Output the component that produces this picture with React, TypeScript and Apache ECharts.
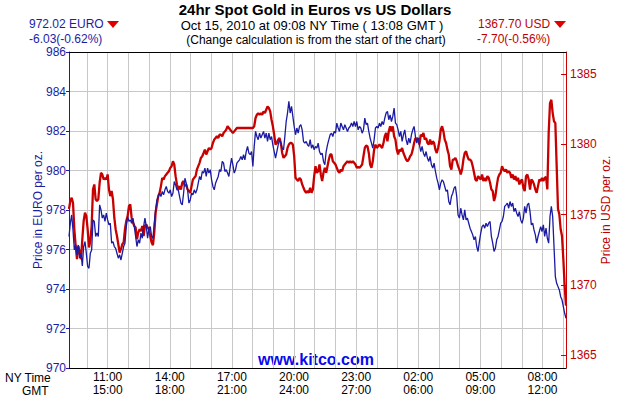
import React, { useEffect, useRef } from "react";
import * as echarts from "echarts";

// EUR price per oz, first half of the window (09:08 -> ~20:45 NY)
const euroEarly = [
  976.66, 977.33, 977.75, 976.99, 975.98, 976.23, 975.73, 976.23, 975.56, 975.81,
  975.17, 976.15, 976.40, 975.81, 975.14, 975.05, 975.81, 975.98, 977.50, 977.42,
  976.66, 976.83, 976.66, 978.26, 978.01, 977.59, 977.75, 977.42, 977.84, 977.50,
  977.25, 977.33, 976.32, 976.40, 976.15, 976.06, 975.81, 975.56, 975.73, 975.47,
  975.81, 976.15, 976.32, 977.16, 977.67, 977.42, 977.50, 977.33, 977.59, 977.16,
  976.66, 976.15, 976.49, 976.32, 976.83, 976.57, 977.16, 977.59, 977.16, 976.57,
  977.08, 977.16, 976.66, 976.57, 977.33, 978.01, 978.51, 978.68, 978.85, 978.68,
  978.94, 978.77, 979.02, 979.19, 978.94, 978.85, 979.02, 978.68, 978.85, 979.44,
  979.27, 979.02, 979.02, 978.68, 978.35, 978.26, 978.85, 979.61, 979.36, 979.02,
  978.35, 978.51, 978.85, 978.77, 979.02, 978.85, 979.02, 979.36, 979.70, 979.53,
  979.95, 979.87, 980.12, 979.70, 980.12, 979.87, 980.04, 979.53, 979.19, 979.02,
  979.36, 979.53, 979.70, 980.04, 979.95, 980.46, 980.37, 979.95, 980.04, 979.87,
  979.70, 980.20, 980.63, 980.29, 979.87, 980.04, 980.37, 980.46, 980.54, 980.71,
  980.54, 980.80, 980.54, 980.96, 981.22, 980.88, 980.80, 980.96, 980.20, 981.22,
  981.98, 981.72, 981.56, 981.89, 981.64, 981.81, 981.98, 981.64, 981.89, 981.47,
  981.89, 981.56, 981.72, 981.30, 980.96, 980.63, 980.96, 981.30, 981.56, 981.39,
  981.13, 981.05, 981.72, 982.48, 982.91, 983.50, 982.91, 983.25, 982.74, 982.23,
  981.81, 982.15, 981.89, 982.23, 982.32, 982.06, 981.47, 981.39, 981.47, 981.30,
  981.22,
];

// EUR price per oz, second half (~20:45 NY -> 09:08 NY)
const euroLate = [
  981.56, 981.13, 981.30, 981.05, 981.22, 981.13, 981.39, 980.96, 980.80, 980.88,
  980.46, 980.29, 980.96, 981.30, 981.56, 981.81, 981.89, 981.72, 981.98, 981.89,
  982.40, 982.15, 981.98, 982.40, 982.23, 982.06, 982.32, 982.15, 981.98, 982.15,
  982.23, 982.40, 982.23, 982.48, 982.23, 982.48, 982.06, 982.23, 982.15, 981.89,
  982.06, 982.65, 982.32, 982.40, 981.98, 981.64, 981.39, 981.13, 981.56, 982.15,
  982.23, 982.15, 982.40, 982.23, 982.48, 982.32, 982.65, 982.91, 982.99, 982.57,
  982.82, 982.48, 982.74, 983.16, 982.40, 982.32, 982.06, 981.72, 981.98, 981.47,
  981.81, 982.06, 981.56, 981.30, 981.64, 981.39, 981.81, 982.06, 982.23, 981.72,
  981.39, 981.64, 981.30, 980.96, 981.22, 980.88, 980.71, 980.96, 980.63, 980.46,
  980.71, 980.29, 980.12, 980.37, 979.95, 979.61, 979.36, 979.02, 979.36, 979.53,
  979.44, 979.19, 978.94, 979.02, 978.43, 978.26, 978.68, 978.85, 979.11, 979.19,
  978.68, 977.75, 977.59, 978.09, 977.75, 977.50, 978.01, 977.50, 977.59, 977.33,
  977.08, 976.91, 976.74, 976.49, 976.66, 976.15, 975.90, 976.40, 976.83, 977.16,
  977.25, 977.08, 977.33, 977.16, 977.33, 977.42, 976.66, 976.32, 975.90, 976.06,
  976.49, 976.66, 976.99, 977.33, 977.42, 977.67, 978.18, 978.26, 978.35, 978.09,
  978.43, 978.18, 978.35, 977.92, 978.09, 977.84, 977.67, 977.92, 977.50, 977.33,
  977.59, 978.18, 977.84, 978.26, 978.35, 977.92, 977.25, 977.33, 976.99, 976.74,
  976.32, 976.66, 976.91, 977.16, 976.91, 977.25, 976.66, 977.08, 976.57, 976.32,
  977.67, 978.18, 977.67, 976.15, 974.63, 974.29, 974.12, 973.95, 973.61, 973.45,
  973.11, 972.77, 972.52,
];

// USD price per oz, first half
const usdEarly = [
  1375.40, 1375.97, 1376.20, 1375.85, 1373.96, 1372.77, 1371.83, 1372.77, 1372.30, 1371.83,
  1373.25, 1374.55, 1375.14, 1374.90, 1373.96, 1372.66, 1373.13, 1374.19, 1376.79, 1377.15,
  1376.09, 1375.97, 1376.09, 1377.27, 1377.98, 1377.86, 1377.50, 1377.62, 1377.50, 1377.86,
  1376.79, 1376.32, 1376.68, 1376.09, 1374.78, 1373.96, 1373.48, 1372.89, 1372.30, 1372.54,
  1372.89, 1373.01, 1373.96, 1374.55, 1374.90, 1375.61, 1375.73, 1374.78, 1374.43, 1374.19,
  1374.08, 1373.25, 1373.72, 1373.96, 1373.84, 1374.19, 1373.48, 1374.19, 1374.31, 1374.08,
  1373.96, 1373.48, 1373.01, 1372.82, 1373.72, 1375.14, 1375.73, 1376.32, 1376.56, 1377.03,
  1377.62, 1377.50, 1377.74, 1377.86, 1377.98, 1378.09, 1378.33, 1378.45, 1378.80, 1378.57,
  1377.74, 1377.15, 1376.79, 1377.03, 1376.79, 1377.27, 1377.39, 1377.03, 1377.15, 1376.79,
  1376.68, 1376.56, 1377.03, 1377.50, 1377.62, 1377.74, 1378.21, 1378.45, 1378.69, 1379.04,
  1379.16, 1379.39, 1379.63, 1379.28, 1379.51, 1379.75, 1379.63, 1379.75, 1380.10, 1380.34,
  1380.46, 1380.58, 1380.46, 1380.69, 1380.69, 1380.58, 1380.81, 1380.93, 1381.05, 1381.29,
  1381.17, 1381.05, 1380.93, 1380.81, 1380.93, 1381.05, 1381.17, 1381.17, 1381.17, 1381.17,
  1381.17, 1381.17, 1381.17, 1381.17, 1381.17, 1381.17, 1381.17, 1381.17, 1381.17, 1381.29,
  1381.88, 1382.11, 1382.23, 1382.11, 1382.23, 1382.11, 1382.35, 1382.23, 1382.47, 1382.70,
  1382.59, 1382.35, 1381.76, 1381.29, 1380.69, 1379.99, 1380.10, 1380.34, 1380.46, 1380.10,
  1379.39, 1379.04, 1379.16, 1379.28, 1379.75, 1379.99, 1380.10, 1380.10, 1379.99, 1379.16,
  1377.62, 1377.50, 1377.39, 1377.62, 1377.50, 1377.15, 1376.91, 1376.68, 1376.56, 1376.68,
  1376.56,
];

// USD price per oz, second half
const usdLate = [
  1376.91, 1376.56, 1376.79, 1377.74, 1378.45, 1377.98, 1378.09, 1378.57, 1377.86, 1377.39,
  1377.98, 1378.33, 1377.98, 1378.45, 1378.92, 1379.28, 1379.28, 1378.80, 1378.69, 1378.57,
  1378.33, 1378.09, 1377.98, 1378.21, 1378.09, 1378.45, 1378.57, 1378.69, 1378.80, 1378.69,
  1378.80, 1378.69, 1378.80, 1378.69, 1378.57, 1378.33, 1378.40, 1378.33, 1378.45, 1378.57,
  1379.16, 1379.75, 1379.91, 1379.87, 1379.39, 1378.57, 1378.33, 1378.80, 1379.63, 1379.99,
  1379.75, 1379.87, 1379.99, 1379.87, 1379.75, 1380.10, 1380.58, 1380.81, 1380.22, 1380.93,
  1381.29, 1380.93, 1381.29, 1380.58, 1380.34, 1379.63, 1379.28, 1379.63, 1379.51, 1379.75,
  1379.39, 1379.16, 1378.92, 1378.80, 1378.92, 1379.16, 1379.28, 1379.63, 1380.10, 1380.46,
  1380.34, 1380.46, 1379.99, 1380.69, 1380.58, 1380.81, 1380.34, 1380.46, 1380.10, 1379.99,
  1380.34, 1379.99, 1380.22, 1380.10, 1379.63, 1379.39, 1379.75, 1380.22, 1381.05, 1381.29,
  1380.93, 1380.34, 1380.10, 1379.63, 1379.28, 1378.45, 1378.21, 1378.92, 1378.92, 1379.04,
  1378.80, 1378.45, 1378.21, 1377.86, 1378.21, 1378.92, 1379.39, 1379.51, 1379.16, 1378.92,
  1378.92, 1378.80, 1378.45, 1377.98, 1377.50, 1377.39, 1377.74, 1377.62, 1377.50, 1377.86,
  1377.39, 1377.62, 1377.39, 1377.74, 1377.62, 1377.27, 1376.79, 1376.68, 1375.97, 1376.32,
  1377.03, 1377.62, 1377.86, 1377.98, 1378.45, 1378.21, 1378.09, 1378.21, 1377.98, 1378.09,
  1377.98, 1377.62, 1377.86, 1377.50, 1377.74, 1377.39, 1377.62, 1377.15, 1377.39, 1377.50,
  1376.91, 1376.68, 1377.74, 1377.86, 1377.50, 1376.79, 1377.50, 1377.39, 1377.15, 1376.79,
  1376.56, 1377.03, 1377.50, 1377.39, 1377.62, 1377.39, 1377.62, 1377.69, 1376.79, 1380.81,
  1382.94, 1383.18, 1382.23, 1381.64, 1381.52, 1378.45, 1375.40, 1375.02, 1373.96, 1373.48,
  1371.83, 1369.94, 1368.52,
];

// time window in NY hours (09:08 -> 09:08 next day)
const startHour = 9 + 8 / 60;
const endHour = 33 + 8 / 60;
const hourGrid = [10, 11, 12, 13, 14, 15, 16, 17, 18, 19, 20, 21, 22, 23, 24, 25, 26, 27, 28, 29, 30, 31, 32, 33];
const labelHours = [11, 14, 17, 20, 23, 26, 29, 32];
const nyLabels = ["11:00", "14:00", "17:00", "20:00", "23:00", "02:00", "05:00", "08:00"];
const gmtLabels = ["15:00", "18:00", "21:00", "24:00", "27:00", "06:00", "09:00", "12:00"];

const euroMin = 970;
const euroMax = 986;
const euroStep = 2;
const usdMin = 1364.08;
const usdMax = 1386.58;
const usdTicks = [1365, 1370, 1375, 1380, 1385];

const FONT = "'Liberation Sans', Arial, sans-serif";
const BLUE_TXT = "#1c1ca6";
const RED_TXT = "#c00000";

function toPairs(vals: number[]) {
  const n = vals.length;
  return vals.map((v, i) => [startHour + (i * (endHour - startHour)) / (n - 1), v]);
}

export default function App() {
  const ref = useRef<HTMLDivElement>(null);

  useEffect(() => {
    if (!ref.current) return;
    const chart = echarts.init(ref.current, undefined, { renderer: "svg" });
    const euro = euroEarly.concat(euroLate);
    const usd = usdEarly.concat(usdLate);

    const option: any = {
      animation: false,
      backgroundColor: "#ffffff",
      textStyle: { fontFamily: FONT },
      grid: { left: 69, right: 64, top: 52, bottom: 32, containLabel: false },
      xAxis: [
        {
          type: "value",
          position: "bottom",
          min: startHour,
          max: endHour,
          axisLine: { show: true, lineStyle: { color: "#000000", width: 1 } },
          axisTick: { show: false, customValues: hourGrid },
          splitLine: { show: true, lineStyle: { color: "#c8c8c8", width: 1 } },
          axisLabel: {
            customValues: labelHours,
            color: "#000000",
            fontSize: 12,
            fontFamily: FONT,
            lineHeight: 13.5,
            margin: 2,
            formatter: (v: number) => {
              const i = labelHours.indexOf(Math.round(v));
              return i < 0 ? "" : nyLabels[i] + "\n" + gmtLabels[i];
            },
          },
        },
        {
          type: "value",
          position: "top",
          min: startHour,
          max: endHour,
          axisLine: { show: true, lineStyle: { color: "#000000", width: 1 } },
          axisTick: { show: false },
          axisLabel: { show: false },
          splitLine: { show: false },
        },
      ],
      yAxis: [
        {
          type: "value",
          position: "left",
          min: euroMin,
          max: euroMax,
          interval: euroStep,
          name: "Price in EURO per oz.",
          nameLocation: "middle",
          nameRotate: 90,
          nameGap: 25,
          nameMoveOverlap: false,
          nameTextStyle: { color: BLUE_TXT, fontSize: 12, fontFamily: FONT },
          axisLine: { show: true, lineStyle: { color: BLUE_TXT, width: 1 } },
          axisTick: { show: true, inside: false, length: 3, lineStyle: { color: BLUE_TXT } },
          axisLabel: { color: BLUE_TXT, fontSize: 12, fontFamily: FONT, margin: 3 },
          splitLine: { show: true, lineStyle: { color: "#c8c8c8", width: 1 } },
        },
        {
          type: "value",
          position: "right",
          min: usdMin,
          max: usdMax,
          name: "Price in USD per oz.",
          nameLocation: "middle",
          nameRotate: 90,
          nameGap: 34,
          nameMoveOverlap: false,
          nameTextStyle: { color: RED_TXT, fontSize: 12, fontFamily: FONT },
          axisLine: { show: true, lineStyle: { color: "#c80000", width: 1 } },
          axisTick: {
            show: true,
            inside: true,
            length: 5,
            customValues: usdTicks,
            lineStyle: { color: "#c80000" },
          },
          axisLabel: {
            customValues: usdTicks,
            color: RED_TXT,
            fontSize: 12,
            fontFamily: FONT,
            margin: 4,
            formatter: (v: number) => String(Math.round(v)),
          },
          splitLine: { show: false },
        },
      ],
      series: [
        {
          type: "line",
          name: "USD",
          xAxisIndex: 0,
          yAxisIndex: 1,
          data: toPairs(usd),
          symbol: "none",
          showSymbol: false,
          lineStyle: { color: "#c80000", width: 2.3 },
          z: 2,
        },
        {
          type: "line",
          name: "EUR",
          xAxisIndex: 0,
          yAxisIndex: 0,
          data: toPairs(euro),
          symbol: "none",
          showSymbol: false,
          lineStyle: { color: "#1a1aa2", width: 1.3 },
          z: 3,
        },
      ],
      graphic: [
        {
          type: "text",
          x: 315,
          y: 9,
          style: {
            text: "24hr Spot Gold in Euros vs US Dollars",
            font: "bold 15px " + FONT,
            fill: "#000000",
            align: "center",
            verticalAlign: "middle",
          },
        },
        {
          type: "text",
          x: 312,
          y: 25.5,
          style: {
            text: "Oct 15, 2010 at 09:08 NY Time ( 13:08 GMT )",
            font: "13px " + FONT,
            fill: "#000000",
            align: "center",
            verticalAlign: "middle",
          },
        },
        {
          type: "text",
          x: 316,
          y: 40,
          style: {
            text: "(Change calculation is from the start of the chart)",
            font: "12px " + FONT,
            fill: "#000000",
            align: "center",
            verticalAlign: "middle",
          },
        },
        {
          type: "text",
          x: 29,
          y: 24,
          style: { text: "972.02 EURO", font: "12px " + FONT, fill: BLUE_TXT, align: "left", verticalAlign: "middle" },
        },
        {
          type: "polygon",
          shape: { points: [[107, 21], [119, 21], [113, 28]] },
          style: { fill: "#e00000" },
        },
        {
          type: "text",
          x: 29,
          y: 38.5,
          style: { text: "-6.03(-0.62%)", font: "12px " + FONT, fill: BLUE_TXT, align: "left", verticalAlign: "middle" },
        },
        {
          type: "text",
          x: 478,
          y: 24,
          style: { text: "1367.70 USD", font: "12px " + FONT, fill: RED_TXT, align: "left", verticalAlign: "middle" },
        },
        {
          type: "polygon",
          shape: { points: [[554, 21], [566, 21], [560, 28]] },
          style: { fill: "#e00000" },
        },
        {
          type: "text",
          x: 477,
          y: 38.5,
          style: { text: "-7.70(-0.56%)", font: "12px " + FONT, fill: RED_TXT, align: "left", verticalAlign: "middle" },
        },
        {
          type: "text",
          x: 316,
          y: 359,
          style: {
            text: "www.kitco.com",
            font: "bold 16px " + FONT,
            fill: "#0a0aee",
            align: "center",
            verticalAlign: "middle",
          },
        },
        {
          type: "text",
          x: 5,
          y: 378,
          style: { text: "NY Time", font: "12px " + FONT, fill: "#000000", align: "left", verticalAlign: "middle" },
        },
        {
          type: "text",
          x: 22,
          y: 391,
          style: { text: "GMT", font: "12px " + FONT, fill: "#000000", align: "left", verticalAlign: "middle" },
        },
      ],
    };

    chart.setOption(option);
    return () => {
      chart.dispose();
    };
  }, []);

  return (
    <div
      ref={ref}
      style={{ position: "absolute", left: 0, top: 0, width: 630, height: 400, background: "#ffffff" }}
    />
  );
}
